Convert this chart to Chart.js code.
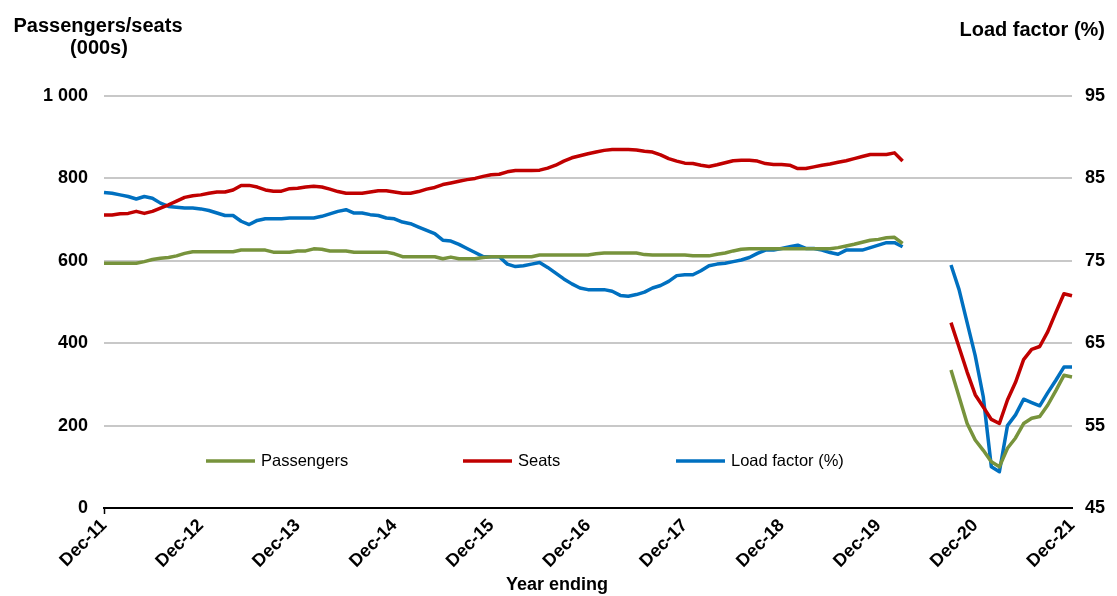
<!DOCTYPE html>
<html lang="en">
<head>
    <meta charset="UTF-8">
    <title>Passengers, seats and load factor</title>
    <script src="https://cdn.jsdelivr.net/npm/chart.js"></script>
    <style>
        body {
            margin: 0;
            background: #fff;
        }
        #wrap {
            width: 1117px;
            height: 596px;
        }
    </style>
</head>
<body>
    <div id="wrap">
        <canvas id="myChart" width="1117" height="596"></canvas>
    </div>

    <script>
        // Meses (año terminado) de Dec-11 a Dec-21
        const mesesNombre = ['Jan','Feb','Mar','Apr','May','Jun','Jul','Aug','Sep','Oct','Nov','Dec'];
        const meses = [];
        for (let i = 0; i <= 120; i++) {
            const m = (11 + i) % 12;
            const y = 11 + Math.floor((11 + i) / 12);
            meses.push(mesesNombre[m] + '-' + String(y).padStart(2, '0'));
        }
        const etiquetasEje = ['Dec-11','Dec-12','Dec-13','Dec-14','Dec-15','Dec-16','Dec-17','Dec-18','Dec-19','Dec-20','Dec-21'];

        // Pasajeros (miles)
        const passengers = [
            594, 594, 594, 594, 594, 598, 603, 606, 608, 612, 618, 622,
            622, 622, 622, 622, 622, 626, 626, 626, 626, 621, 621, 621,
            624, 624, 629, 628, 624, 624, 624, 621, 621, 621, 621, 621,
            617, 610, 610, 610, 610, 610, 605, 609, 605, 605, 605, 608,
            610, 610, 610, 610, 610, 610, 614, 614, 614, 614, 614, 614,
            614, 617, 619, 619, 619, 619, 619, 615, 614, 614, 614, 614,
            614, 612, 612, 612, 616, 619, 624, 628, 629, 629, 629, 629,
            629, 629, 629, 629, 629, 629, 629, 632, 636, 640, 645, 650,
            652, 656, 657, 642, null, null, null, null, null, 335, 270, 205,
            165, 140, 112, 100, 145, 170, 205, 218, 222, 250, 285, 322,
            318
        ];

        // Asientos (miles)
        const seats = [
            711, 711, 714, 715, 720, 715, 720, 728, 736, 745, 754, 758,
            760, 764, 767, 767, 772, 783, 783, 779, 772, 769, 769, 775,
            776, 779, 781, 779, 774, 768, 764, 764, 764, 767, 770, 770,
            767, 764, 764, 768, 774, 778, 785, 789, 793, 797, 800, 805,
            809, 810, 816, 819, 819, 819, 820, 825, 832, 842, 850, 855,
            860, 864, 868, 870, 870, 870, 869, 866, 864, 857, 848, 842,
            837, 836, 832, 829, 833, 838, 843, 844, 844, 842, 836, 834,
            834, 832, 824, 824, 828, 832, 835, 839, 843, 848, 853, 858,
            858, 858, 862, 842, null, null, null, null, null, 450, 390, 330,
            275, 245, 215, 205, 262, 305, 360, 385, 392, 428, 475, 520,
            515
        ];

        // Factor de carga (%)
        const loadFactor = [
            83.3, 83.2, 83.0, 82.8, 82.5, 82.8, 82.6, 82.0, 81.6, 81.5, 81.4, 81.4,
            81.3, 81.1, 80.8, 80.5, 80.5, 79.8, 79.4, 79.9, 80.1, 80.1, 80.1, 80.2,
            80.2, 80.2, 80.2, 80.4, 80.7, 81.0, 81.2, 80.8, 80.8, 80.6, 80.5, 80.2,
            80.1, 79.7, 79.5, 79.1, 78.7, 78.3, 77.5, 77.4, 77.0, 76.5, 76.0, 75.5,
            75.5, 75.5, 74.6, 74.3, 74.4, 74.6, 74.8, 74.2, 73.5, 72.8, 72.2, 71.7,
            71.5, 71.5, 71.5, 71.3, 70.8, 70.7, 70.9, 71.2, 71.7, 72.0, 72.5, 73.2,
            73.3, 73.3, 73.8, 74.4, 74.6, 74.7, 74.9, 75.1, 75.4, 75.9, 76.3, 76.3,
            76.5, 76.7, 76.9, 76.5, 76.5, 76.3, 76.0, 75.8, 76.3, 76.3, 76.3, 76.6,
            76.9, 77.2, 77.2, 76.7, null, null, null, null, null, 74.5, 71.5, 67.5,
            63.5, 58.5, 50.0, 49.4, 55.0, 56.3, 58.2, 57.8, 57.4, 59.0, 60.5, 62.1,
            62.1
        ];

        const verde = '#77933C';
        const rojo = '#C00000';
        const azul = '#0070C0';
        const fuente = "'Liberation Sans', Arial, sans-serif";

        // Títulos de ejes y leyenda dibujados a mano
        const textos = {
            id: 'textos',
            afterDraw(chart) {
                const c = chart.ctx;
                c.save();
                c.fillStyle = '#000';
                c.textBaseline = 'middle';
                c.font = 'bold 20px ' + fuente;
                c.textAlign = 'center';
                c.fillText('Passengers/seats', 98, 26);
                c.fillText('(000s)', 99, 48);
                c.textAlign = 'right';
                c.fillText('Load factor (%)', 1105, 30);
                c.font = 'bold 18px ' + fuente;
                c.textAlign = 'center';
                c.fillText('Year ending', 557, 585);

                // Leyenda
                const items = [
                    { texto: 'Passengers', color: verde, x: 206 },
                    { texto: 'Seats', color: rojo, x: 463 },
                    { texto: 'Load factor (%)', color: azul, x: 676 }
                ];
                const ly = 461;
                c.font = '16.5px ' + fuente;
                c.textAlign = 'left';
                items.forEach(it => {
                    c.strokeStyle = it.color;
                    c.lineWidth = 3.5;
                    c.beginPath();
                    c.moveTo(it.x, ly);
                    c.lineTo(it.x + 49, ly);
                    c.stroke();
                    c.fillStyle = '#000';
                    c.fillText(it.texto, it.x + 55, ly);
                });
                c.restore();
            }
        };

        const ctx = document.getElementById('myChart').getContext('2d');
        new Chart(ctx, {
            type: 'line',
            data: {
                labels: meses,
                datasets: [
                    {
                        label: 'Passengers',
                        data: passengers,
                        borderColor: verde,
                        yAxisID: 'y'
                    },
                    {
                        label: 'Seats',
                        data: seats,
                        borderColor: rojo,
                        yAxisID: 'y'
                    },
                    {
                        label: 'Load factor (%)',
                        data: loadFactor,
                        borderColor: azul,
                        yAxisID: 'y1'
                    }
                ]
            },
            options: {
                responsive: false,
                animation: false,
                spanGaps: false,
                elements: {
                    point: { radius: 0 },
                    line: { borderWidth: 3.5, tension: 0, borderJoinStyle: 'round' }
                },
                layout: {
                    padding: { top: 96, left: 0, right: 0, bottom: 0 }
                },
                plugins: {
                    legend: { display: false },
                    tooltip: { enabled: false }
                },
                scales: {
                    x: {
                        type: 'category',
                        offset: false,
                        afterFit(scale) { scale.height = 88; },
                        border: { display: true, color: '#000', width: 2 },
                        grid: {
                            drawOnChartArea: false,
                            drawTicks: true,
                            tickLength: 6,
                            tickWidth: 1.5,
                            tickColor: c => (c.index % 12 === 0 ? '#000' : 'rgba(0,0,0,0)')
                        },
                        ticks: {
                            autoSkip: false,
                            maxRotation: 45,
                            minRotation: 45,
                            padding: 1,
                            color: '#000',
                            font: { family: fuente, size: 18, weight: 'bold' },
                            callback: (v, i) => (i % 12 === 0 ? etiquetasEje[i / 12] : null)
                        }
                    },
                    y: {
                        position: 'left',
                        min: 0,
                        max: 1000,
                        afterFit(scale) { scale.width = 104; },
                        border: { display: false },
                        grid: {
                            drawTicks: false,
                            lineWidth: 2,
                            color: c => (c.tick.value === 0 ? 'rgba(0,0,0,0)' : '#C8C8C8')
                        },
                        ticks: {
                            stepSize: 200,
                            padding: 16,
                            color: '#000',
                            font: { family: fuente, size: 18, weight: 'bold' },
                            callback: v => (v >= 1000 ? '1 000' : String(v))
                        }
                    },
                    y1: {
                        position: 'right',
                        min: 45,
                        max: 95,
                        afterFit(scale) { scale.width = 45; },
                        border: { display: false },
                        grid: { display: false, drawTicks: false },
                        ticks: {
                            stepSize: 10,
                            padding: 13,
                            color: '#000',
                            font: { family: fuente, size: 18, weight: 'bold' }
                        }
                    }
                }
            },
            plugins: [textos]
        });
    </script>
</body>
</html>
